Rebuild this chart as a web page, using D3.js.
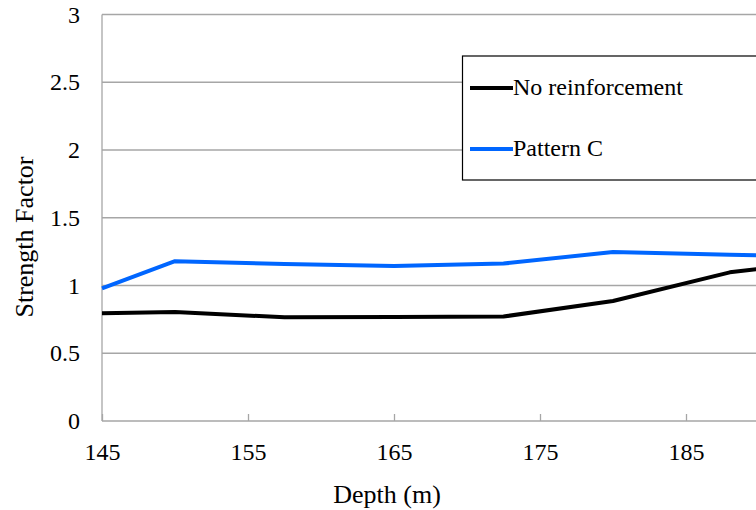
<!DOCTYPE html>
<html>
<head>
<meta charset="utf-8">
<script src="https://cdn.jsdelivr.net/npm/d3@7/dist/d3.min.js"></script>
<style>
  html, body { margin: 0; padding: 0; background: #fff; }
  svg { display: block; font-family: "Liberation Serif", "Times New Roman", serif; }
</style>
</head>
<body>
<svg id="chart" width="756" height="510"></svg>
<script>
// ---- data ----
const depths = [145, 150, 157.5, 165, 172.5, 180, 188, 190];
const noReinforcement = [0.795, 0.804, 0.765, 0.767, 0.771, 0.886, 1.097, 1.122];
const patternC = [0.979, 1.179, 1.159, 1.144, 1.162, 1.247, 1.227, 1.223];
const seriesNames = ["No reinforcement", "Pattern C"];
const seriesColors = ["#000000", "#0066ff"];
const xTicks = [145, 155, 165, 175, 185];
const yTicks = [0, 0.5, 1, 1.5, 2, 2.5, 3];
const xTitle = "Depth (m)";
const yTitle = "Strength Factor";

(function () {
// ---- layout ----
const svg = d3.select("#chart");
const mLeft = 102, mTop = 14.5, mBottom = 421, rightEnd = 759;
const x = d3.scaleLinear().domain([145, 190]).range([mLeft, rightEnd]);
const y = d3.scaleLinear().domain([0, 3]).range([mBottom, mTop]);
const gridColor = "#a6a6a6";

// gridlines
svg.append("g")
  .selectAll("line").data(yTicks).join("line")
  .attr("x1", mLeft).attr("x2", 756)
  .attr("y1", d => y(d)).attr("y2", d => y(d))
  .attr("stroke", gridColor).attr("stroke-width", 1.3);

// y axis line
svg.append("line")
  .attr("x1", mLeft).attr("x2", mLeft).attr("y1", mTop).attr("y2", mBottom)
  .attr("stroke", gridColor).attr("stroke-width", 1.3);

// x axis (ticks inward)
const xAxis = d3.axisBottom(x).tickValues(xTicks).tickSize(-7).tickFormat(d3.format("d")).tickPadding(22);
const gx = svg.append("g").attr("transform", `translate(0,${mBottom})`).call(xAxis);
gx.select(".domain").remove();
gx.selectAll(".tick line").attr("stroke", gridColor).attr("stroke-width", 1.3);
gx.selectAll(".tick text").attr("font-size", 24).attr("fill", "#000")
  .attr("font-family", "Liberation Serif, serif");

// y axis labels
const yAxis = d3.axisLeft(y).tickValues(yTicks).tickSize(0).tickPadding(22)
  .tickFormat(d => d3.format("")(d));
const gy = svg.append("g").attr("transform", `translate(${mLeft},0)`).call(yAxis);
gy.select(".domain").remove();
gy.selectAll(".tick text").attr("font-size", 24).attr("fill", "#000")
  .attr("font-family", "Liberation Serif, serif");

// lines
const series = [noReinforcement, patternC];
series.forEach((vals, i) => {
  const line = d3.line().x((d, j) => x(depths[j])).y(d => y(d)).curve(d3.curveLinear);
  svg.append("path").datum(vals)
    .attr("d", line)
    .attr("fill", "none")
    .attr("stroke", seriesColors[i])
    .attr("stroke-width", 4)
    .attr("stroke-linejoin", "round");
});

// axis titles
svg.append("text").attr("x", 387).attr("y", 503)
  .attr("text-anchor", "middle").attr("font-size", 26).text(xTitle);
svg.append("text").attr("transform", "translate(33,237) rotate(-90)")
  .attr("text-anchor", "middle").attr("font-size", 26).text(yTitle);

// legend
const lg = svg.append("g");
lg.append("rect").attr("x", 462.5).attr("y", 56).attr("width", 310).attr("height", 124)
  .attr("fill", "#fff").attr("stroke", "#000").attr("stroke-width", 1.2);
const legendY = [88, 149];
seriesNames.forEach((name, i) => {
  lg.append("line").attr("x1", 470).attr("x2", 513)
    .attr("y1", legendY[i]).attr("y2", legendY[i])
    .attr("stroke", seriesColors[i]).attr("stroke-width", 4);
  lg.append("text").attr("x", 513).attr("y", legendY[i] + 6.5)
    .attr("font-size", 24).text(name);
});
})();
</script>
</body>
</html>
